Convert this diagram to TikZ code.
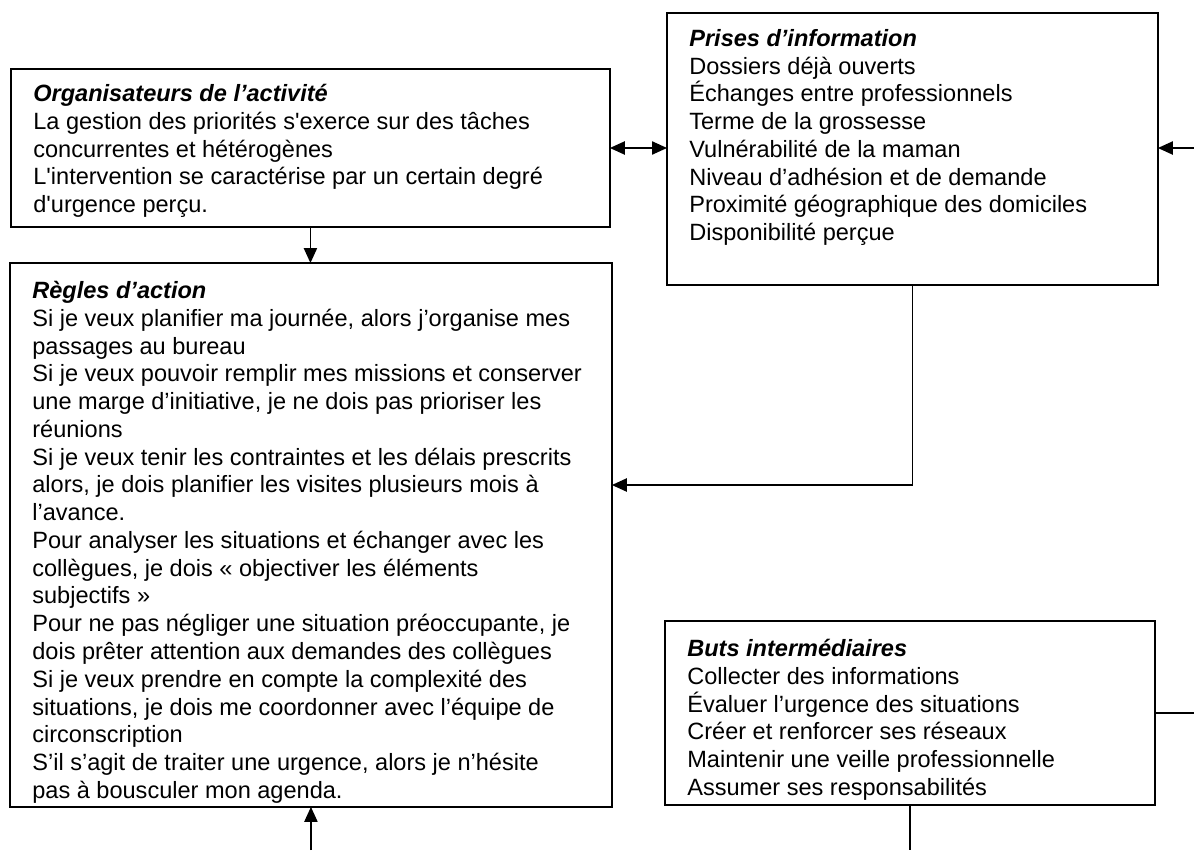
\documentclass[tikz,border=0pt]{standalone}
\usepackage{fontspec}
\setmainfont{Liberation Sans}
\usepackage{tikz}
\usetikzlibrary{calc}
\usetikzlibrary{arrows.meta}
\usetikzlibrary{positioning}

\begin{document}
\begin{tikzpicture}[x=0.02cm,y=-0.02cm,
	cadre/.style={draw,line width=1.1pt,anchor=north west,inner sep=0pt,outer sep=0pt},
	texte/.style={anchor=north west,inner sep=0pt,align=left,
		font=\fontsize{13.4}{15.8}\selectfont},
	fleche/.style={line width=0.9pt,-{Triangle[length=8.5pt,width=7.5pt]}},
	trait/.style={line width=0.9pt}]
	\useasboundingbox (0,0) rectangle (1194,850);
	% les quatre cadres
	\node[cadre,minimum width=11.98cm,minimum height=3.16cm] (org) at (11,69) {};
	\node[cadre,minimum width=9.82cm,minimum height=5.44cm] (info) at (667,13) {};
	\node[cadre,minimum width=12.04cm,minimum height=10.88cm] (regles) at (10,263) {};
	\node[cadre,minimum width=9.8cm,minimum height=3.68cm] (buts) at (665,621) {};
	% les textes, coupes au bord du cadre
	\begin{scope}
	\clip (org.north west) rectangle (org.south east);
	\node[texte] (orgtxt) at ([shift={(22,15)}]org.north west)
		{\textbf{\textit{Organisateurs de l’activité}}\\
		La gestion des priorités s\textquotesingle exerce sur des tâches\\
		concurrentes et hétérogènes\\
		L\textquotesingle intervention se caractérise par un certain degré\\
		d\textquotesingle urgence perçu.};
	\end{scope}
	\node[texte] (infotxt) at ([shift={(22,16)}]info.north west)
		{\textbf{\textit{Prises d’information}}\\
		Dossiers déjà ouverts\\
		Échanges entre professionnels\\
		Terme de la grossesse\\
		Vulnérabilité de la maman\\
		Niveau d’adhésion et de demande\\
		Proximité géographique des domiciles\\
		Disponibilité perçue};
	\begin{scope}
	\clip (regles.north west) rectangle (regles.south east);
	\node[texte] (reglestxt) at ([shift={(22,18)}]regles.north west)
		{\textbf{\textit{Règles d’action}}\\
		Si je veux planifier ma journée, alors j’organise mes\\
		passages au bureau\\
		Si je veux pouvoir remplir mes missions et conserver\\
		une marge d’initiative, je ne dois pas prioriser les\\
		réunions\\
		Si je veux tenir les contraintes et les délais prescrits\\
		alors, je dois planifier les visites plusieurs mois à\\
		l’avance.\\
		Pour analyser les situations et échanger avec les\\
		collègues, je dois « objectiver les éléments\\
		subjectifs »\\
		Pour ne pas négliger une situation préoccupante, je\\
		dois prêter attention aux demandes des collègues\\
		Si je veux prendre en compte la complexité des\\
		situations, je dois me coordonner avec l’équipe de\\
		circonscription\\
		S’il s’agit de traiter une urgence, alors je n’hésite\\
		pas à bousculer mon agenda.};
	\end{scope}
	\begin{scope}
	\clip (buts.north west) rectangle (buts.south east);
	\node[texte] (butstxt) at ([shift={(22,18)}]buts.north west)
		{\textbf{\textit{Buts intermédiaires}}\\
		Collecter des informations\\
		Évaluer l’urgence des situations\\
		Créer et renforcer ses réseaux\\
		Maintenir une veille professionnelle\\
		Assumer ses responsabilités};
	\end{scope}
	% bords libres
	\coordinate (bordin) at (1194,148);
	\coordinate (bordbas) at (0,850);
	% liaisons
	\draw[fleche,{Triangle[length=8.5pt,width=7.5pt]}-{Triangle[length=8.5pt,width=7.5pt]}]
		(org.east) -- (org.east -| info.west);
	\draw[fleche] (bordin) -- (info.east |- bordin);
	\draw[fleche] (org.south) -- (org.south |- regles.north);
	\draw[fleche] (info.south) |- ($(regles.north east)+(0,222)$);
	\draw[fleche] (regles.south |- bordbas) -- (regles.south);
	\draw[trait] (buts.east) -- (buts.east -| bordin);
	\draw[trait] (buts.south) -- (buts.south |- bordbas);
\end{tikzpicture}
\end{document}
